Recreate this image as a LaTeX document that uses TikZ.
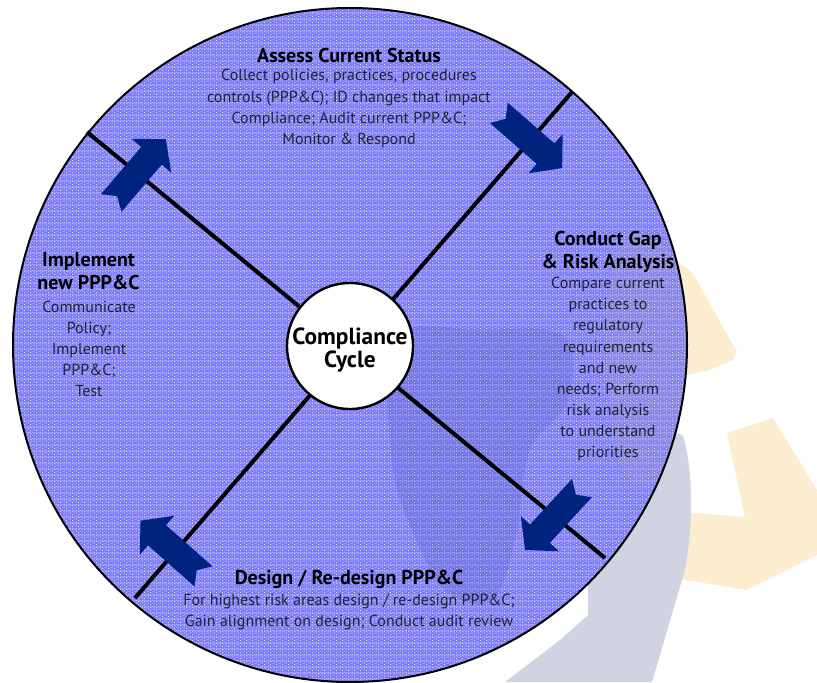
\documentclass[tikz,border=0pt]{standalone}
\usepackage{fontspec}
\setmainfont{PT Sans}
\usetikzlibrary{patterns}

\definecolor{wheelfill}{RGB}{122,122,250}
\definecolor{grainfleck}{RGB}{228,228,255}
\definecolor{arrowblue}{RGB}{0,35,125}
\definecolor{markyellow}{RGB}{252,236,208}
\definecolor{markgray}{RGB}{208,212,225}
\definecolor{shadegray}{RGB}{70,80,150}
\definecolor{shadeyellow}{RGB}{190,170,130}
\definecolor{bodytext}{RGB}{35,35,45}

% fine grain used over the wheel fill
\pgfdeclarepatternformonly{grain}{\pgfqpoint{0pt}{0pt}}{\pgfqpoint{4.5pt}{4.5pt}}{\pgfqpoint{4.5pt}{4.5pt}}{%
  \pgfpathrectangle{\pgfqpoint{0pt}{0pt}}{\pgfqpoint{0.75pt}{0.75pt}}%
  \pgfpathrectangle{\pgfqpoint{2.25pt}{0.75pt}}{\pgfqpoint{0.75pt}{0.75pt}}%
  \pgfpathrectangle{\pgfqpoint{3.75pt}{1.5pt}}{\pgfqpoint{0.75pt}{0.75pt}}%
  \pgfpathrectangle{\pgfqpoint{0.75pt}{2.25pt}}{\pgfqpoint{0.75pt}{0.75pt}}%
  \pgfpathrectangle{\pgfqpoint{3pt}{3pt}}{\pgfqpoint{0.75pt}{0.75pt}}%
  \pgfpathrectangle{\pgfqpoint{1.5pt}{3.75pt}}{\pgfqpoint{0.75pt}{0.75pt}}%
  \pgfpathrectangle{\pgfqpoint{0pt}{3pt}}{\pgfqpoint{0.75pt}{0.75pt}}%
  \pgfpathrectangle{\pgfqpoint{3.75pt}{3.75pt}}{\pgfqpoint{0.75pt}{0.75pt}}%
  \pgfusepath{fill}%
}

\tikzset{
  flowarrow/.style={fill=arrowblue, draw=none},
  spoke/.style={line width=3pt, draw=black},
  heading/.style={font=\bfseries\fontsize{15}{17.2}\selectfont, text=black, align=center, inner sep=0pt},
  body/.style={font=\fontsize{12}{15.8}\selectfont, text=bodytext, align=center, inner sep=0pt},
  cyclearrow/.pic={
    \fill[flowarrow] (-42,13.5) -- (20,13.5) -- (20,26) -- (42,0) -- (20,-26)
      -- (20,-13.5) -- (-42,-13.5) -- (-33,0) -- cycle;
  },
}

\begin{document}
\begin{tikzpicture}[x=0.75pt,y=-0.75pt]
\useasboundingbox (0,0) rectangle (817,682);

% logo mark behind the wheel
\fill[markyellow] (640,250) -- (678,262) -- (692,272) -- (737,352) -- (733,360)
  -- (710,370) -- (688,375) -- (640,380) -- cycle;
\fill[markyellow] (727,433) -- (773,418) -- (817,490) -- (817,555) -- (747,590)
  -- (667,577) -- (683,512) -- (745,517) -- cycle;
\fill[markgray] (600,432) .. controls (640,428) and (670,428) .. (683,436)
  .. controls (694,470) and (694,540) .. (682,580) -- (652,682) -- (505,682)
  -- (560,640) -- (588,615) -- (588,560) -- cycle;

% the wheel
\coordinate (hub) at (350,345);
\fill[wheelfill] (hub) circle[radius=337];
\fill[pattern=grain, pattern color=grainfleck] (hub) circle[radius=337];

% logo mark showing through the wheel
\begin{scope}
  \clip (hub) circle[radius=336];
  \fill[shadegray, opacity=0.18] plot[smooth cycle, tension=0.6] coordinates
    {(395,338) (480,330) (563,336) (568,400) (530,450) (515,540) (492,600)
     (445,590) (412,530) (392,460)};
  \fill[shadeyellow, opacity=0.15] plot[smooth cycle, tension=0.6] coordinates
    {(625,240) (678,262) (688,375) (672,470) (622,470) (606,330)};
\end{scope}

\node[circle, draw=black, line width=1.5pt, minimum size=505.5pt, inner sep=0pt] (wheel) at (hub) {};

% spokes
\coordinate (nw) at (87,132);
\coordinate (se) at (605,558);
\coordinate (ne) at (572,92);
\coordinate (sw) at (135,598);
\draw[spoke] (nw) -- (se);
\draw[spoke] (ne) -- (sw);

% hub
\node[circle, fill=white, draw=black, line width=1.8pt, minimum size=94.5pt, inner sep=0pt] (core) at (350,346) {};
\node[font=\bfseries\fontsize{17.5}{17.5}\selectfont, align=center, inner sep=0pt] (coreLabel) at (350,350)
  {Compliance\\Cycle};

% block arrows, clockwise
\pic[rotate=49.5] (arrowA) at (138.5,171) {cyclearrow};
\pic[rotate=-41.1] (arrowB) at (530.5,140.5) {cyclearrow};
\pic[rotate=-132.6] (arrowC) at (553.5,519) {cyclearrow};
\pic[rotate=138.5] (arrowD) at (172,548.5) {cyclearrow};

% top quadrant
\node[heading] (assessT) at (349,55) {Assess Current Status};
\node[body] (assessB) at (349,108.5) {Collect policies, practices, procedures\\
  controls (PPP\&C); ID changes that impact\\Compliance; Audit current PPP\&C;\\
  Monitor \& Respond};

% right quadrant
\node[heading] (gapT) at (608,251.5) {Conduct Gap\\\& Risk Analysis};
\node[body] (gapB) at (608,369) {Compare current\\practices to\\regulatory\\requirements\\
  and new\\needs; Perform\\risk analysis\\to understand\\priorities};

% bottom quadrant
\node[heading] (designT) at (349,579) {Design / Re-design PPP\&C};
\node[body] (designB) at (349,612) {For highest risk areas design / re-design PPP\&C;\\
  Gain alignment on design; Conduct audit review};

% left quadrant
\node[heading] (implT) at (88.5,271.5) {Implement\\new PPP\&C};
\node[body] (implB) at (89,349) {Communicate\\Policy;\\Implement\\PPP\&C;\\Test};
\end{tikzpicture}
\end{document}
